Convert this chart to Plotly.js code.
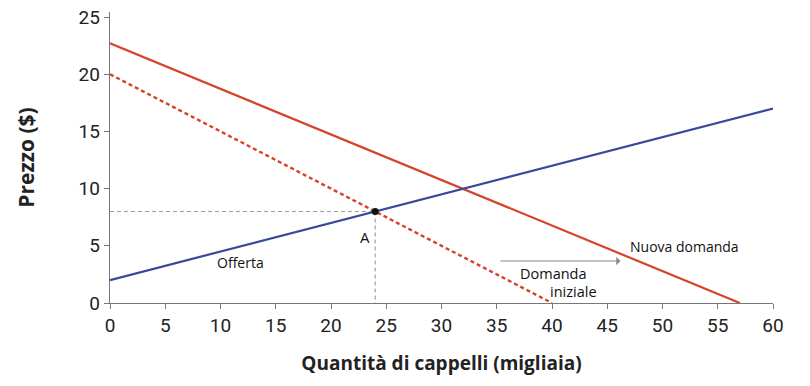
<!DOCTYPE html>
<html><head><meta charset="utf-8">
<script src="https://cdn.plot.ly/plotly-3.0.1.min.js"></script>
<style>body{margin:0;background:#fff}#chart{width:810px;height:386px}</style>
</head><body><div id="chart"></div>
<script>
// Data
const supplyX = [0, 60];
const supplyY = [2, 17];
const initialDemandX = [0, 40];
const initialDemandY = [20, 0];
const newDemandX = [0, 57];
const newDemandY = [22.7, 0];
const pointA = {x: 24, y: 8};
const xTicks = [0, 5, 10, 15, 20, 25, 30, 35, 40, 45, 50, 55, 60];
const yTicks = [0, 5, 10, 15, 20, 25];

const red = '#d7422b';
const blue = '#36499a';
const gray = '#a0a0a0';
const tickFont = 'Roboto, "Open Sans", sans-serif';
const labFont = '"Open Sans", sans-serif';

const traces = [
  {x: [0, pointA.x], y: [pointA.y, pointA.y], mode: 'lines', line: {color: gray, width: 1.2, dash: '4px,3px'}, hoverinfo: 'skip'},
  {x: [pointA.x, pointA.x], y: [pointA.y, 0], mode: 'lines', line: {color: gray, width: 1.2, dash: '4px,3px'}, hoverinfo: 'skip'},
  {x: initialDemandX, y: initialDemandY, mode: 'lines', line: {color: red, width: 2.4, dash: '4px,3px'}},
  {x: newDemandX, y: newDemandY, mode: 'lines', line: {color: red, width: 2.2}},
  {x: supplyX, y: supplyY, mode: 'lines', line: {color: blue, width: 2.2}},
  {x: [pointA.x], y: [pointA.y], mode: 'markers', marker: {color: '#111', size: 7}}
];

const layout = {
  width: 810, height: 386,
  margin: {l: 110, r: 37, t: 12, b: 83},
  showlegend: false,
  paper_bgcolor: '#fff', plot_bgcolor: '#fff',
  font: {family: labFont, color: '#222', size: 16},
  xaxis: {
    range: [0, 60], tickvals: xTicks, showgrid: false, zeroline: false,
    showline: true, linecolor: '#777', linewidth: 1.3,
    ticks: 'outside', ticklen: 5, tickcolor: '#777',
    tickfont: {family: tickFont, size: 19, color: '#222'},
    title: {text: '<b>Quantità di cappelli (migliaia)</b>', font: {family: labFont, size: 19, color: '#222'}, standoff: 20}
  },
  yaxis: {
    range: [0, 25.44], tickvals: yTicks, showgrid: false, zeroline: false,
    showline: true, linecolor: '#777', linewidth: 1.3,
    ticks: 'outside', ticklen: 5, tickcolor: '#777',
    tickfont: {family: tickFont, size: 19, color: '#222'},
    title: {text: '<b>Prezzo ($)</b>', font: {family: labFont, size: 21, color: '#222'}, standoff: 38}
  },
  annotations: [
    {x: 23.1, y: 5.8, text: 'A', showarrow: false, font: {family: labFont, size: 15, color: '#111'}},
    {x: 9.5, y: 3.5, text: 'Offerta', xanchor: 'left', showarrow: false, font: {family: labFont, size: 14, color: '#111'}},
    {x: 46.9, y: 4.98, text: 'Nuova domanda', xanchor: 'left', showarrow: false, font: {family: labFont, size: 14, color: '#111'}},
    {x: 36.9, y: 2.6, text: 'Domanda', xanchor: 'left', showarrow: false, font: {family: labFont, size: 14.5, color: '#111'}},
    {x: 39.6, y: 1.0, text: 'iniziale', xanchor: 'left', showarrow: false, font: {family: labFont, size: 14.5, color: '#111'}},
    {x: 46.2, y: 3.67, ax: 35.2, ay: 3.67, axref: 'x', ayref: 'y', xref: 'x', yref: 'y', text: '', showarrow: true, arrowhead: 1, arrowsize: 1.3, arrowwidth: 1.1, arrowcolor: '#888'}
  ]
};

Plotly.newPlot('chart', traces, layout, {displayModeBar: false, staticPlot: true});
</script></body></html>
